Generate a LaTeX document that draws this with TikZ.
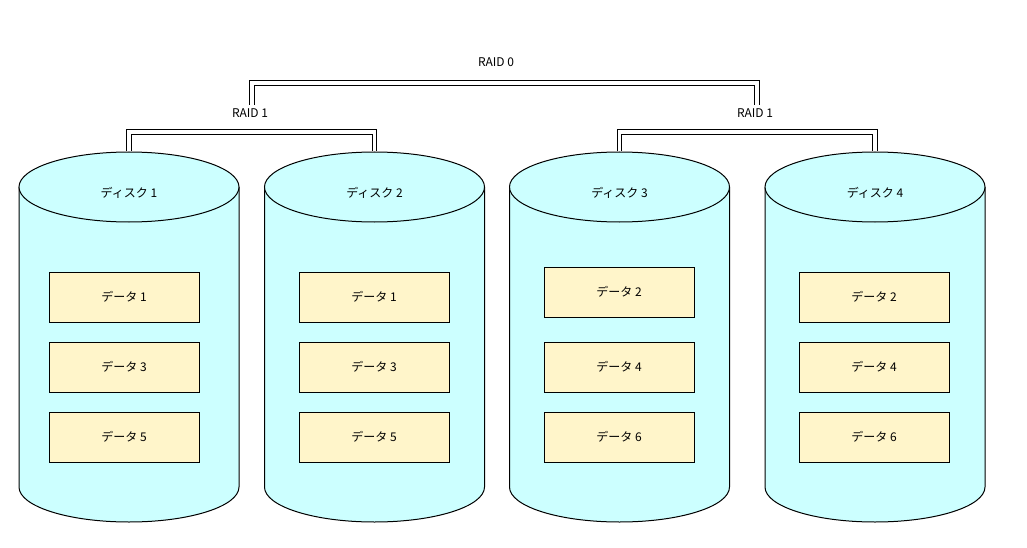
\documentclass[tikz,border=0pt]{standalone}
\usepackage{fontspec}
\setmainfont{Noto Sans CJK JP}
\usetikzlibrary{shapes.geometric}
\definecolor{diskblue}{HTML}{CCFFFF}
\definecolor{datayellow}{HTML}{FFF5CA}
\begin{document}
\begin{tikzpicture}
  [x=1pt,y=-1pt,line width=1pt,font=\fontsize{12}{14}\selectfont]
  \tikzstyle{disk} = [draw,fill=diskblue]
  \tikzstyle{top} = [disk,ellipse,minimum width=220pt,minimum height=70pt,inner sep=0pt]
  \tikzstyle{data} = [draw,fill=datayellow,minimum width=150pt,minimum height=50pt]
  \tikzstyle{link} = [double,double distance=3.3pt]
  \useasboundingbox (0,0) rectangle (1027,548);
  % disks
  \foreach \n /\x in {1/129,2/374.5,3/619.5,4/875} {
   \draw[disk] (\x-110,187) -- (\x-110,487)
     arc[start angle=180,end angle=0,x radius=110,y radius=35] -- (\x+110,187);
   \node[top] (disk\n) at (\x,187) {\raisebox{-10pt}[0pt][0pt]{ディスク \n}};
  }
  \foreach \name /\x /\y /\num in {d1a/124/297/1,d1b/124/367/3,d1c/124/437/5,
    d2a/374/297/1,d2b/374/367/3,d2c/374/437/5,
    d3a/619/292/2,d3b/619/367/4,d3c/619/437/6,
    d4a/874/297/2,d4b/874/367/4,d4c/874/437/6}
   \node[data] (\name) at (\x,\y) {データ \num};
  % raid labels
  \node (raid0) at (496,62) {RAID 0};
  \node (raid1a) at (250,113) {RAID 1};
  \node (raid1b) at (755,113) {RAID 1};
  \draw[link] (disk1.north) -- (disk1.north |- 0,132) -| (disk2.north);
  \draw[link] (disk3.north) -- (disk3.north |- 0,132) -| (disk4.north);
  \draw[link] ([xshift=2pt]raid1a.north) -- ([xshift=2pt]raid1a.north |- 0,83)
    -| ([xshift=2pt]raid1b.north);
\end{tikzpicture}
\end{document}
